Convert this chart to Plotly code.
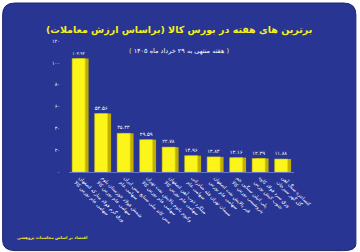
import plotly.graph_objects as go

categories = [
    "ورق گرم فولاد مبارکه اصفهان<br>سهامی عام بورس کالا",
    "شمش فولاد خوزستان بلوم<br>سهامی عام بورس کالا",
    "مس کاتد ملی صنایع مس ایران<br>سهامی عام",
    "وکیوم باتوم پالایش نفت تهران<br>سهامی عام بورس کالا",
    "میلگرد ذوب آهن اصفهان<br>سهامی عام بورس کالا",
    "سیمان تهران فله صادراتی<br>سهامی عام",
    "قیر پالایش نفت اصفهان<br>سهامی عام بورس",
    "پلی اتیلن سنگین جم<br>پتروشیمی بورس کالا",
    "ورق سرد فولاد کاوه<br>جنوب کیش بورس",
    "کنسانتره سنگ آهن<br>گل گهر سیرجان",
]
values = [103.93, 53.56, 35.43, 29.59, 22.78, 14.96, 13.83, 13.16, 12.39, 11.88]
y_ticks = [0, 20, 40, 60, 80, 100, 120]

title_text = "برترین های هفته در بورس کالا (براساس ارزش معاملات)"
subtitle_text = "هفته منتهی به ۲۹ خرداد ماه ۱۴۰۵"
footer_text = "اقتصاد بر اساس محاسبات پژوهشی"

FA = str.maketrans("0123456789.", "۰۱۲۳۴۵۶۷۸۹.")
def fa(v):
    return str(v).translate(FA)

FONT = "DejaVu Sans"
BLUE = "#283593"
YEL = "#f7f01c"

fig = go.Figure()
# depth (side) of each bar
fig.add_trace(go.Bar(
    x=categories, y=values,
    marker=dict(color="#bfae00", line=dict(width=0)),
    width=0.58, offset=-0.21,
    hoverinfo="skip",
))
fig.add_trace(go.Bar(
    x=categories, y=values,
    marker=dict(color="#fbf51a", line=dict(color="#d8c800", width=0.5)),
    width=0.58, offset=-0.36,
    text=[fa(v) for v in values],
    textposition="outside",
    textfont=dict(color="white", size=6, family=FONT),
    cliponaxis=False,
))

fig.update_layout(
    width=360, height=252,
    margin=dict(l=69, r=66, t=41, b=80),
    paper_bgcolor="white",
    plot_bgcolor="rgba(0,0,0,0)",
    showlegend=False,
    barmode="overlay",
    font=dict(family=FONT, color="white"),
    xaxis=dict(
        tickangle=45, tickfont=dict(size=5, color="white", family=FONT),
        showline=True, linecolor="#6474c8", linewidth=1,
        showgrid=False, ticks="",
    ),
    yaxis=dict(
        range=[0, 120], tickvals=y_ticks, ticktext=[fa(t) for t in y_ticks],
        tickfont=dict(size=5, color="white", family=FONT),
        showgrid=False, zeroline=False, showline=False, ticks="",
        ticklabelstandoff=8,
    ),
    shapes=[
        dict(type="path", xref="paper", yref="paper", layer="below",
             path="M -0.24,1.29 L 1.22,1.29 Q 1.275,1.29 1.275,1.2 "
                  "L 1.275,-0.55 Q 1.275,-0.6 1.22,-0.6 L -0.24,-0.6 "
                  "Q -0.295,-0.6 -0.295,-0.52 L -0.295,1.2 Q -0.295,1.29 -0.24,1.29 Z",
             fillcolor=BLUE, line=dict(color="#1c2670", width=1)),
    ],
    annotations=[
        dict(text="<b>" + title_text + "</b>", xref="paper", yref="paper",
             x=0.49, y=1.0, yshift=41 - 30, showarrow=False, yanchor="middle",
             xanchor="center",
             font=dict(size=9.5, color=YEL, family=FONT)),
        dict(text=f"<span style='color:{YEL}'>(</span> " + subtitle_text
                  + f" <span style='color:{YEL}'>)</span>",
             xref="paper", yref="paper",
             x=0.49, y=1.0, yshift=41 - 51, showarrow=False, yanchor="middle",
             xanchor="center",
             font=dict(size=6.5, color="white", family=FONT)),
        dict(text="<b>" + footer_text + "</b>", xref="paper", yref="paper",
             x=-0.24, y=0, yshift=-(237 - 172), showarrow=False,
             xanchor="left", yanchor="middle",
             font=dict(size=4, color=YEL, family=FONT)),
    ],
)

fig.write_html("out.html")
